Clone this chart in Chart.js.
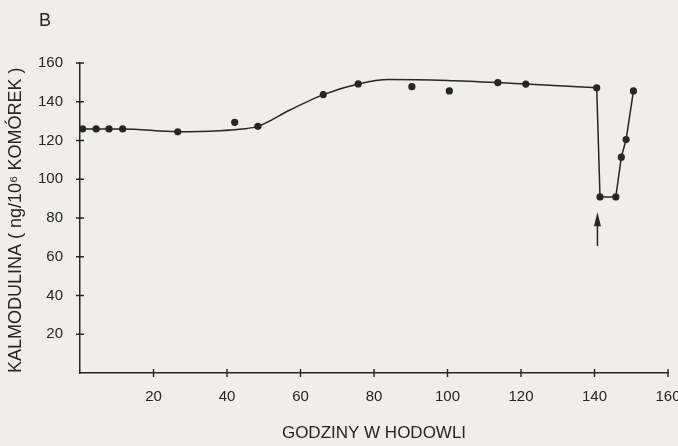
<!DOCTYPE html>
<html>
<head>
<meta charset="utf-8">
<script src="https://cdn.jsdelivr.net/npm/chart.js@4.4.0/dist/chart.umd.min.js"></script>
<style>
  html, body { margin: 0; padding: 0; background: #efeee9; }
  #wrap { width: 678px; height: 446px; }
</style>
</head>
<body>
<div id="wrap"><canvas id="chart" width="678" height="446"></canvas></div>
<script>
// measured points (hours in culture, calmodulin ng/10^6 cells)
const pointHours  = [0.7, 4.4, 7.9, 11.6, 26.6, 42.1, 48.4, 66.2, 75.7, 90.3, 100.5, 113.7, 121.3, 140.6, 141.5, 145.8, 147.3, 148.6, 150.6];
const pointValues = [126, 126, 126, 126, 124.5, 129.4, 127.3, 143.7, 149.2, 147.8, 145.6, 149.9, 149.1, 147.2, 90.9, 90.9, 111.4, 120.5, 145.6];

// smooth fitted curve up to the arrow
const curveHours  = [0.7, 11.6, 26.6, 38, 44, 48.4, 57, 66.2, 75.7, 84, 100, 113.7, 121.3, 140.6];
const curveValues = [126, 126, 124.5, 125, 125.9, 127.3, 135.6, 143.7, 149.2, 151.5, 151, 149.9, 149.1, 147.2];

// straight segments after the arrow
const dropHours  = [140.6, 141.5, 145.8, 147.3, 148.6, 150.6];
const dropValues = [147.2, 90.9, 90.9, 111.4, 120.5, 145.6];

const xTicks = [20, 40, 60, 80, 100, 120, 140, 160];
const yTicks = [20, 40, 60, 80, 100, 120, 140, 160];

const arrowHour = 140.8;
const arrowFrom = 65.5;
const arrowTo = 83;

const ink = '#262626';
const font = "'Liberation Sans', Arial, sans-serif";

function pairs(xs, ys) {
  return xs.map((x, i) => ({ x: x, y: ys[i] }));
}

// panel letter, tick marks crossing the axes, and the arrow
const extras = {
  id: 'extras',
  afterDraw(chart) {
    const ctx = chart.ctx;
    const xs = chart.scales.x, ys = chart.scales.y;
    const x0 = xs.getPixelForValue(0), y0 = ys.getPixelForValue(0);
    ctx.save();
    ctx.fillStyle = ink;
    ctx.font = '18px ' + font;
    ctx.textBaseline = 'alphabetic';
    ctx.fillText('B', 39, 26);

    ctx.strokeStyle = ink;
    ctx.lineWidth = 1.4;
    ctx.beginPath();
    yTicks.forEach(v => {
      const p = ys.getPixelForValue(v);
      ctx.moveTo(x0 - 4, p); ctx.lineTo(x0 + 4, p);
    });
    xTicks.forEach(v => {
      const p = xs.getPixelForValue(v);
      ctx.moveTo(p, y0 - 4); ctx.lineTo(p, y0 + 4);
    });
    ctx.stroke();

    const ax = xs.getPixelForValue(arrowHour);
    const top = ys.getPixelForValue(arrowTo), bot = ys.getPixelForValue(arrowFrom);
    ctx.lineWidth = 1.5;
    ctx.beginPath();
    ctx.moveTo(ax, bot); ctx.lineTo(ax, top + 8);
    ctx.stroke();
    ctx.beginPath();
    ctx.moveTo(ax, top);
    ctx.lineTo(ax - 3.5, top + 14);
    ctx.lineTo(ax + 3.5, top + 14);
    ctx.closePath();
    ctx.fill();
    ctx.restore();
  }
};

Chart.defaults.font.family = font;
Chart.defaults.color = ink;

new Chart(document.getElementById('chart'), {
  type: 'line',
  data: {
    datasets: [
      {
        data: pairs(curveHours, curveValues),
        borderColor: ink, borderWidth: 1.5,
        pointRadius: 0, cubicInterpolationMode: 'monotone', fill: false
      },
      {
        data: pairs(dropHours, dropValues),
        borderColor: ink, borderWidth: 1.5,
        pointRadius: 0, tension: 0, fill: false
      },
      {
        data: pairs(pointHours, pointValues),
        showLine: false,
        pointRadius: 3.6, pointBackgroundColor: ink, pointBorderWidth: 0
      }
    ]
  },
  options: {
    responsive: false,
    animation: false,
    layout: { padding: { top: 63, right: 10, left: 5, bottom: 2 } },
    plugins: {
      legend: { display: false },
      tooltip: { enabled: false }
    },
    scales: {
      x: {
        type: 'linear', min: 0, max: 160,
        afterFit(scale) { scale.paddingRight = 0; scale.paddingLeft = 0; scale.height = 71; },
        afterBuildTicks(scale) { scale.ticks = [0].concat(xTicks).map(v => ({ value: v })); },
        grid: { display: false, drawTicks: false },
        border: { display: true, color: ink, width: 1.5 },
        ticks: {
          padding: 15, maxRotation: 0,
          font: { size: 15 },
          callback: v => (v === 0 ? '' : v)
        },
        title: {
          display: true, text: 'GODZINY W HODOWLI',
          font: { size: 17 }, padding: { top: 17, bottom: 0 }
        }
      },
      y: {
        min: 0, max: 160,
        afterFit(scale) { scale.width = 75; },
        afterBuildTicks(scale) { scale.ticks = [0].concat(yTicks).map(v => ({ value: v })); },
        grid: { display: false, drawTicks: false },
        border: { display: true, color: ink, width: 1.5 },
        ticks: {
          padding: 17,
          font: { size: 15 },
          callback: v => (v === 0 ? '' : v)
        },
        title: {
          display: true, text: 'KALMODULINA ( ng/10\u2076 KOMÓREK )',
          align: 'start',
          font: { size: 18 }, padding: { top: 0, bottom: 11 }
        }
      }
    }
  },
  plugins: [extras]
});
</script>
</body>
</html>
